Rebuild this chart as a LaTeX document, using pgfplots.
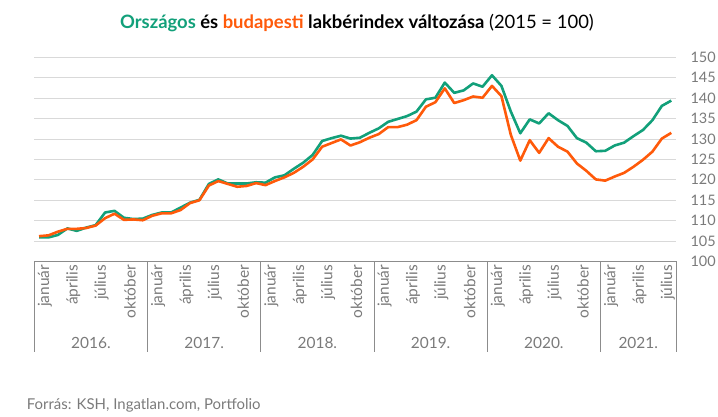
\documentclass[border=0pt]{standalone}
\usepackage{pgfplots}
\pgfplotsset{compat=1.18}
\usepackage{pgfplotstable}
\usepackage{fontspec}
\setmainfont{Lato}
\definecolor{orsz}{HTML}{12A07A}
\definecolor{bpc}{HTML}{FF5A0A}
\definecolor{txtgray}{HTML}{7A7A7A}
\definecolor{gridgray}{HTML}{D9D9D9}
\definecolor{axgray}{HTML}{8C8C8C}
\pgfplotstableread{
i orsz bp
0 105.9 106.2
1 105.9 106.4
2 106.5 107.3
3 108.1 108.0
4 107.5 108.0
5 108.3 108.2
6 108.9 108.8
7 112.0 110.6
8 112.4 111.7
9 110.7 110.2
10 110.4 110.3
11 110.5 110.1
12 111.4 111.2
13 112.0 111.8
14 112.0 111.8
15 113.2 112.6
16 114.4 114.3
17 115.1 115.0
18 119.0 118.6
19 120.1 119.7
20 119.1 119.0
21 119.1 118.3
22 119.1 118.5
23 119.4 119.2
24 119.3 118.7
25 120.6 119.7
26 121.1 120.6
27 122.7 121.7
28 124.2 123.2
29 126.1 125.0
30 129.5 128.1
31 130.2 129.0
32 130.8 129.9
33 130.1 128.4
34 130.3 129.2
35 131.5 130.3
36 132.6 131.2
37 134.2 132.9
38 134.9 132.9
39 135.6 133.5
40 136.7 134.6
41 139.7 137.9
42 140.1 139.0
43 143.8 142.4
44 141.3 138.8
45 141.9 139.5
46 143.6 140.4
47 142.8 140.1
48 145.6 143.0
49 143.0 140.5
50 136.7 131.0
51 131.4 124.7
52 134.8 129.7
53 133.8 126.6
54 136.3 130.2
55 134.6 128.1
56 133.2 126.9
57 130.2 124.0
58 129.1 122.2
59 127.0 120.1
60 127.1 119.8
61 128.4 120.8
62 129.1 121.7
63 130.7 123.2
64 132.2 124.9
65 134.6 126.9
66 138.1 130.1
67 139.4 131.5
}\datatable
\begin{document}
\begin{tikzpicture}
\useasboundingbox (0,0) rectangle (718bp,417bp);
\node[anchor=center, inner sep=0, font=\fontsize{18.5}{22}\selectfont] at (357bp,394bp)
  {\textbf{\textcolor{orsz}{Országos} és \textcolor{bpc}{budapesti} lakbérindex változása} (2015 = 100)};
\node[anchor=base west, inner sep=0, text=txtgray, font=\fontsize{15}{18}\selectfont] at (26.7bp,7.7bp)
  {Forrás: KSH, Ingatlan.com, Portfolio};
\begin{axis}[
  at={(34.3bp,155.5bp)}, anchor=south west,
  width=641.7bp, height=204.2bp, scale only axis,
  xmin=-0.5, xmax=67.5, ymin=100, ymax=150,
  axis x line*=bottom, axis y line*=right,
  x axis line style={-, draw=axgray, line width=0.8bp},
  y axis line style={draw=none},
  ytick={100,105,...,150},
  ymajorgrids, grid style={gridgray, line width=0.8bp},
  major tick length=0pt,
  tick style={axgray, line width=0.8bp},
  /pgf/number format/assume math mode=true,
  yticklabel style={text=txtgray, font=\fontsize{14.5}{14}\selectfont, anchor=west, xshift=11bp},
  xtick={0,3,...,66},
  xticklabels={január,április,július,október,január,április,július,október,január,április,július,október,január,április,július,október,január,április,július,október,január,április,július},
  xticklabel style={rotate=90, anchor=east, text=txtgray, font=\fontsize{15.5}{16}\selectfont, yshift=-6bp},
  extra x ticks={-0.5,11.5,23.5,35.5,47.5,59.5,67.5},
  extra x tick labels={},
  extra x tick style={grid=none, major tick length=90bp, tick align=outside},
  clip=false,
  line join=round,
]
\addplot[orsz, line width=2.6bp, mark=none] table[x=i, y=orsz] {\datatable};
\addplot[bpc, line width=2.6bp, mark=none] table[x=i, y=bp] {\datatable};
\foreach \yr/\xc in {2016./5.5, 2017./17.5, 2018./29.5, 2019./41.5, 2020./53.5, 2021./63.5} {
  \edef\tmp{\noexpand\node[text=txtgray, font=\noexpand\fontsize{15.5}{16}\noexpand\selectfont] at (axis cs:\xc,100) [yshift=-81.5bp] {\yr};}
  \tmp
}
\end{axis}
\end{tikzpicture}
\end{document}
